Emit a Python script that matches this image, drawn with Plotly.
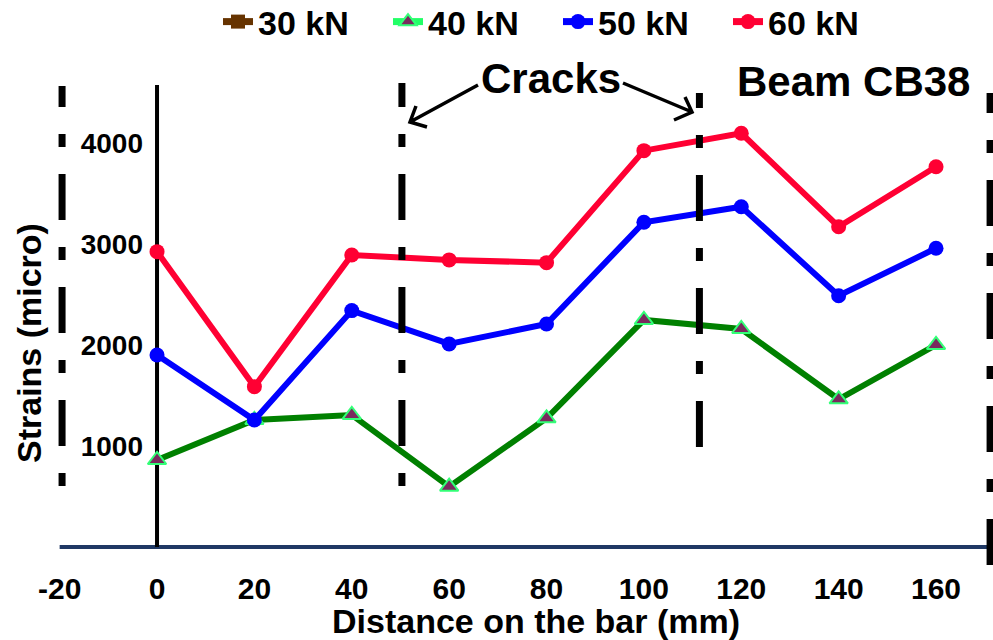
import plotly.graph_objects as go

# ---- data -------------------------------------------------------------
distance_mm = [0, 20, 40, 60, 80, 100, 120, 140, 160]
strain_40kN = [861, 1257, 1307, 597, 1274, 2248, 2158, 1462, 2000]
strain_50kN = [1901, 1257, 2340, 2010, 2208, 3215, 3369, 2488, 2957]
strain_60kN = [2924, 1587, 2891, 2842, 2815, 3924, 4096, 3171, 3765]

load_labels = ["30 kN", "40 kN", "50 kN", "60 kN"]
x_tick_values = [-20, 0, 20, 40, 60, 80, 100, 120, 140, 160]
y_tick_values = [1000, 2000, 3000, 4000]

# positions of the crack markers and the two frame lines (mm)
crack_positions = [50.3, 111.4]
frame_positions = [-19.5, 171.1]

# ---- page geometry ----------------------------------------------------
W, H = 993, 640
ML, MR, MT, MB = 50, 0, 85, 88
X_RANGE = [-21.98, 171.7]
Y_RANGE = [-50, 4574]

BOLD = "Liberation Sans, Arial, sans-serif"


def to_paper(px, py):
    """Pixel position on the page -> paper coordinates."""
    return (px - ML) / (W - ML - MR), (H - MB - py) / (H - MT - MB)


def dash_pattern(offset, length, pattern=(46, 27, 13, 27)):
    """Long-short dash sequence starting `offset` px into the pattern."""
    segs = [pattern[0] - offset]
    total = segs[0]
    i = 1
    while total < length + 60:
        segs.append(pattern[i % 4])
        total += pattern[i % 4]
        i += 1
    if len(segs) % 2:
        segs.append(pattern[i % 4])
    return ",".join(f"{s}px" for s in segs)


fig = go.Figure()

# plotted series (legend handled by the proxy entries below)
fig.add_trace(go.Scatter(
    x=distance_mm, y=strain_40kN, mode="lines+markers", showlegend=False,
    line=dict(color="#008000", width=6),
    marker=dict(symbol="triangle-up", size=16, color="#7a2a5e",
                line=dict(color="#33ff77", width=2)),
))
fig.add_trace(go.Scatter(
    x=distance_mm, y=strain_50kN, mode="lines+markers", showlegend=False,
    line=dict(color="#0000ff", width=6),
    marker=dict(symbol="circle", size=15, color="#0000ff"),
))
fig.add_trace(go.Scatter(
    x=distance_mm, y=strain_60kN, mode="lines+markers", showlegend=False,
    line=dict(color="#ff0033", width=6),
    marker=dict(symbol="circle", size=15, color="#ff0033"),
))

# legend entries
legend_styles = [
    dict(line=dict(color="#663300", width=7),
         marker=dict(symbol="square", size=14, color="#663300")),
    dict(line=dict(color="#22ff66", width=7),
         marker=dict(symbol="triangle-up", size=15, color="#7a2a5e",
                     line=dict(color="#33ff77", width=2))),
    dict(line=dict(color="#0000ff", width=7),
         marker=dict(symbol="circle", size=15, color="#0000ff")),
    dict(line=dict(color="#ff0033", width=7),
         marker=dict(symbol="circle", size=15, color="#ff0033")),
]
for name, style in zip(load_labels, legend_styles):
    fig.add_trace(go.Scatter(x=[None], y=[None], mode="lines+markers",
                             name=name, **style))

shapes = []
# horizontal axis line and vertical axis at x = 0
shapes.append(dict(type="line", xref="x", yref="y", x0=-20, x1=171.1, y0=0, y1=0,
                   line=dict(color="#1f3864", width=4), layer="below"))
shapes.append(dict(type="line", xref="x", yref="y", x0=0, x1=0, y0=0, y1=Y_RANGE[1],
                   line=dict(color="black", width=4), layer="below"))

# dashed vertical lines: (x, top px, bottom px, phase)
dashed = [
    (frame_positions[0], 86, 486, 25),
    (crack_positions[0], 83, 487, 22),
    (crack_positions[1], 93, 448, 31),
    (frame_positions[1], 93, 567, 26),
]
for xv, top, bot, phase in dashed:
    _, y_top = to_paper(0, top)
    _, y_bot = to_paper(0, bot)
    shapes.append(dict(type="line", xref="x", yref="paper", x0=xv, x1=xv,
                       y0=y_top, y1=y_bot,
                       line=dict(color="black", width=7,
                                 dash=dash_pattern(phase, bot - top)),
                       layer="above"))


# open-headed arrows from the "Cracks" label
def arrow_path(start, tip, arm1, arm2):
    pts = [to_paper(*p) for p in (start, tip, arm1, arm2)]
    (sx, sy), (tx, ty), (ax1, ay1), (ax2, ay2) = pts
    return (f"M{sx},{sy} L{tx},{ty} M{ax1},{ay1} L{tx},{ty} L{ax2},{ay2}")


for a in [((478, 85), (410, 122), (416, 106), (427, 127)),
          ((623, 83), (692, 112), (685, 97), (674, 120))]:
    shapes.append(dict(type="path", xref="paper", yref="paper", path=arrow_path(*a),
                       line=dict(color="black", width=3.5), layer="above"))

annotations = []


def add_text(text, px, py, size, angle=0):
    x, y = to_paper(px, py)
    annotations.append(dict(text=text, x=x, y=y, xref="paper", yref="paper",
                            xanchor="center", yanchor="middle", textangle=angle,
                            showarrow=False,
                            font=dict(family=BOLD, size=size, color="black",
                                      weight="bold")))


add_text("Cracks", 551, 78, 42)
add_text("Beam CB38", 853, 82, 42)
add_text("Strains (micro)", 29, 343, 34, angle=-90)
add_text("Distance on the bar (mm)", 536, 621, 34)

lx, ly = to_paper(558, 22)
fig.update_layout(
    width=W, height=H,
    margin=dict(l=ML, r=MR, t=MT, b=MB, autoexpand=False),
    paper_bgcolor="white", plot_bgcolor="white",
    showlegend=True,
    legend=dict(orientation="h", x=lx, y=ly, xanchor="center", yanchor="middle",
                font=dict(family=BOLD, size=34, color="black", weight="bold"),
                bgcolor="rgba(0,0,0,0)", itemsizing="trace",
                entrywidth=125, entrywidthmode="pixels"),
    xaxis=dict(range=X_RANGE, showgrid=False, zeroline=False, showline=False,
               ticks="", tickmode="array", tickvals=x_tick_values,
               ticktext=[str(v) for v in x_tick_values],
               tickfont=dict(family=BOLD, size=30, color="black", weight="bold"),
               ticklabelstandoff=16),
    yaxis=dict(range=Y_RANGE, showgrid=False, zeroline=False, showline=False,
               anchor="free", position=(157 - ML) / (W - ML - MR),
               ticks="", tickmode="array", tickvals=y_tick_values,
               ticktext=[str(v) for v in y_tick_values],
               tickfont=dict(family=BOLD, size=28, color="black", weight="bold"),
               ticklabelstandoff=14),
    shapes=shapes,
    annotations=annotations,
)

fig.write_html("out.html")
